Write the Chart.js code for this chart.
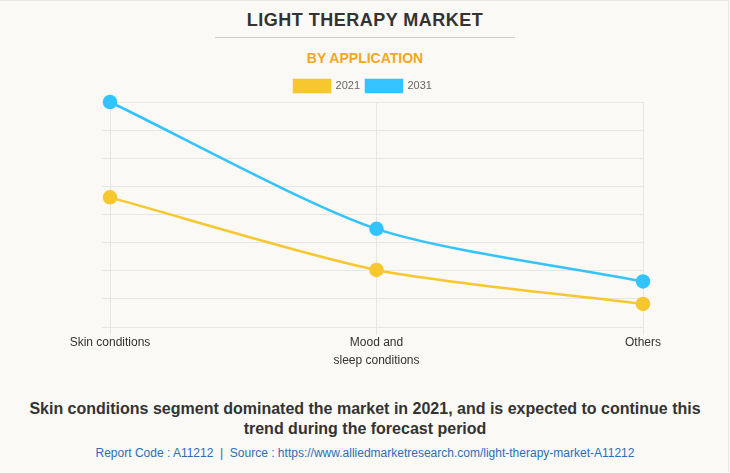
<!DOCTYPE html>
<html>
<head>
<meta charset="utf-8">
<script src="https://cdn.jsdelivr.net/npm/chart.js@4.4.1/dist/chart.umd.min.js"></script>
<style>
  html, body { margin: 0; padding: 0; }
  body { width: 730px; height: 473px; background: #faf9f5; font-family: "Liberation Sans", Arial, sans-serif; position: relative; overflow: hidden; }
  #frame { position: absolute; left: 0; top: 0; width: 729px; height: 472px; border-top: 1px solid #e6e6e6; border-right: 1px solid #e6e6e6; box-sizing: border-box; }
  #title { position: absolute; top: 10px; left: 0; width: 730px; text-align: center; font-weight: bold; font-size: 18px; color: #333; letter-spacing: 0.5px; }
  #rule { position: absolute; top: 37px; left: 215px; width: 300px; height: 1px; background: #cfcfcf; }
  #sub { position: absolute; top: 50px; left: 0; width: 730px; text-align: center; font-weight: bold; font-size: 14px; color: #f5a623; }
  #wrap { position: absolute; top: 74px; left: 0; width: 730px; height: 295px; }
  #foot1 { position: absolute; top: 399px; left: 0; width: 730px; text-align: center; font-weight: bold; font-size: 16px; line-height: 20px; color: #333; }
  #foot2 { position: absolute; top: 446px; left: 0; width: 730px; text-align: center; font-size: 12px; color: #2a6ebb; }
</style>
</head>
<body>
<div id="frame"></div>
<div id="title">LIGHT THERAPY MARKET</div>
<div id="rule"></div>
<div id="sub">BY APPLICATION</div>
<div id="wrap"><canvas id="c" width="730" height="295"></canvas></div>
<div id="foot1">Skin conditions segment dominated the market in 2021, and is expected to continue this<br>trend during the forecast period</div>
<div id="foot2">Report Code : A11212&nbsp; | &nbsp;Source : https://www.alliedmarketresearch.com/light-therapy-market-A11212</div>
<script>
const categories = [["Skin conditions"], ["Mood and", "sleep conditions"], ["Others"]];
const seriesNames = ["2021", "2031"];
const values2021 = [4.61, 2.03, 0.82];
const values2031 = [8.0, 3.49, 1.62];
const colors = ["#f7c72f", "#33c3ff"];

new Chart(document.getElementById("c"), {
  type: "line",
  data: {
    labels: categories,
    datasets: [
      { label: seriesNames[0], data: values2021, borderColor: colors[0], backgroundColor: colors[0], borderWidth: 2.5, pointRadius: 6, pointHoverRadius: 6, tension: 0.25, fill: false, clip: false },
      { label: seriesNames[1], data: values2031, borderColor: colors[1], backgroundColor: colors[1], borderWidth: 2.5, pointRadius: 6, pointHoverRadius: 6, tension: 0.25, fill: false, clip: false }
    ]
  },
  options: {
    responsive: false,
    animation: false,
    devicePixelRatio: 1,
    layout: { padding: { left: 83, right: 87, top: 0, bottom: 0 } },
    plugins: {
      legend: {
        display: true,
        position: "top",
        labels: { boxWidth: 36, boxHeight: 12, color: "#666", font: { size: 11, family: "Liberation Sans" }, padding: 6 }
      },
      tooltip: { enabled: false }
    },
    scales: {
      x: {
        grid: { color: "#e6e6e6", drawTicks: true, tickLength: 8 },
        border: { color: "#e6e6e6" },
        ticks: { color: "#333", font: { size: 12, family: "Liberation Sans", lineHeight: 1.5 }, maxRotation: 0, padding: -1 }
      },
      y: {
        min: 0, max: 8,
        afterFit: function (scale) { scale.width = 27; },
        grid: { color: "#e6e6e6", drawTicks: true, tickLength: 8 },
        border: { display: false },
        ticks: { stepSize: 1, display: false }
      }
    }
  }
});
</script>
</body>
</html>
